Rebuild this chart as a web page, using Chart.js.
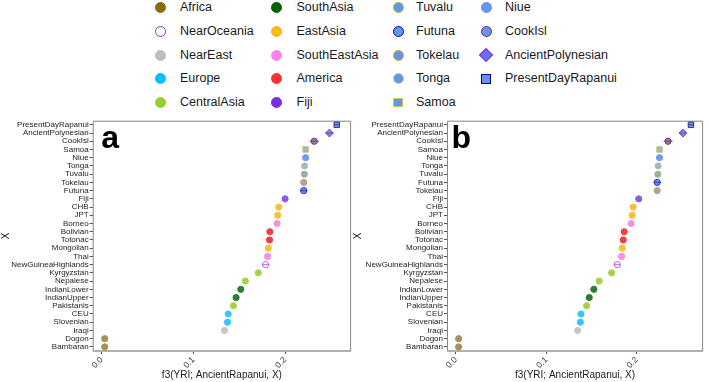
<!DOCTYPE html>
<html>
<head>
<meta charset="utf-8">
<script src="https://cdn.jsdelivr.net/npm/chart.js@4.4.1/dist/chart.umd.min.js"></script>
<style>
  html, body { margin: 0; padding: 0; background: #fff; }
  body { width: 708px; height: 382px; position: relative; overflow: hidden;
         font-family: 'Liberation Sans', Arial, sans-serif; }
  canvas { position: absolute; }
  .lg { position: absolute; font-size: 12.5px; color: #1a1a1a; line-height: 14px; white-space: nowrap; }
  .mk { position: absolute; box-sizing: border-box; }
</style>
</head>
<body>
<div id="legend"></div>
<canvas id="panelA" width="356" height="272" style="left:0px;top:110px"></canvas>
<canvas id="panelB" width="356" height="272" style="left:352px;top:110px"></canvas>
<script>
// populations, top to bottom, for each panel
const catsA = ['PresentDayRapanui', 'AncientPolynesian', 'CookIsl', 'Samoa', 'Niue', 'Tonga', 'Tuvalu',
  'Tokelau', 'Futuna', 'Fiji', 'CHB', 'JPT', 'Borneo', 'Bolivian', 'Totonac', 'Mongolian', 'Thai',
  'NewGuineaHighlands', 'Kyrgyzstan', 'Nepalese', 'IndianLower', 'IndianUpper', 'Pakistanis', 'CEU',
  'Slovenian', 'Iraqi', 'Dogon', 'Bambaran'];
const valsA = [0.2564, 0.2484, 0.2318, 0.2224, 0.2224, 0.2213, 0.2210, 0.2203, 0.2203, 0.2000, 0.1932,
  0.1920, 0.1913, 0.1834, 0.1830, 0.1816, 0.1809, 0.1787, 0.1708, 0.1567, 0.1517, 0.1466, 0.1437, 0.1379,
  0.1372, 0.1339, 0.0033, 0.0033];
const seA = [0.003, 0.004, 0.005, 0.003, 0.003, 0.003, 0.003, 0.003, 0.004, 0.003, 0.003, 0.003, 0.003,
  0.003, 0.003, 0.003, 0.003, 0.004, 0.003, 0.003, 0.003, 0.003, 0.003, 0.003, 0.003, 0.003, 0.003, 0.003];

const catsB = ['PresentDayRapanui', 'AncientPolynesian', 'CookIsl', 'Samoa', 'Niue', 'Tonga', 'Tuvalu',
  'Futuna', 'Tokelau', 'Fiji', 'CHB', 'JPT', 'Borneo', 'Bolivian', 'Totonac', 'Mongolian', 'Thai',
  'NewGuineaHighlands', 'Kyrgyzstan', 'Nepalese', 'IndianLower', 'IndianUpper', 'Pakistanis', 'CEU',
  'Slovenian', 'Iraqi', 'Dogon', 'Bambaran'];
const valsB = [0.2601, 0.2512, 0.2347, 0.2253, 0.2253, 0.2238, 0.2234, 0.2227, 0.2227, 0.2023, 0.1960,
  0.1950, 0.1939, 0.1862, 0.1851, 0.1840, 0.1833, 0.1785, 0.1723, 0.1585, 0.1526, 0.1475, 0.1446, 0.1384,
  0.1377, 0.1347, 0.0030, 0.0030];
const seB = [0.003, 0.004, 0.005, 0.003, 0.003, 0.003, 0.003, 0.004, 0.003, 0.003, 0.003, 0.003, 0.003,
  0.003, 0.003, 0.003, 0.003, 0.004, 0.003, 0.003, 0.003, 0.003, 0.003, 0.003, 0.003, 0.003, 0.003, 0.003];

// which legend group each population belongs to
const groupOf = {
  PresentDayRapanui: 'PresentDayRapanui', AncientPolynesian: 'AncientPolynesian', CookIsl: 'CookIsl',
  Samoa: 'Samoa', Niue: 'Niue', Tonga: 'Tonga', Tuvalu: 'Tuvalu', Tokelau: 'Tokelau', Futuna: 'Futuna',
  Fiji: 'Fiji', CHB: 'EastAsia', JPT: 'EastAsia', Borneo: 'SouthEastAsia', Bolivian: 'America',
  Totonac: 'America', Mongolian: 'EastAsia', Thai: 'SouthEastAsia', NewGuineaHighlands: 'NearOceania',
  Kyrgyzstan: 'CentralAsia', Nepalese: 'CentralAsia', IndianLower: 'SouthAsia', IndianUpper: 'SouthAsia',
  Pakistanis: 'CentralAsia', CEU: 'Europe', Slovenian: 'Europe', Iraqi: 'NearEast', Dogon: 'Africa',
  Bambaran: 'Africa'
};

// legend order (column by column)
const legendGroups = ['Africa', 'NearOceania', 'NearEast', 'Europe', 'CentralAsia',
  'SouthAsia', 'EastAsia', 'SouthEastAsia', 'America', 'Fiji',
  'Tuvalu', 'Futuna', 'Tokelau', 'Tonga', 'Samoa',
  'Niue', 'CookIsl', 'AncientPolynesian', 'PresentDayRapanui'];

const xTicks = [0, 0.1, 0.2];

// styles: legend colours (key) and the lighter colours seen in the panels (plot)
const styles = {
  Africa:            { shape: 'circle', key: ['#8b6914', '#8b6914'], plot: ['#a8925a', '#a8925a'] },
  NearOceania:       { shape: 'circle', key: ['#ffffff', '#9932cc'], plot: ['#ffffff', '#b060e6'] },
  NearEast:          { shape: 'circle', key: ['#bebebe', '#bebebe'], plot: ['#c6c6c6', '#c6c6c6'] },
  Europe:            { shape: 'circle', key: ['#00bfff', '#00bfff'], plot: ['#3cc6f5', '#3cc6f5'] },
  CentralAsia:       { shape: 'circle', key: ['#9acd32', '#9acd32'], plot: ['#a8d14c', '#a8d14c'] },
  SouthAsia:         { shape: 'circle', key: ['#006400', '#006400'], plot: ['#2f7d2f', '#2f7d2f'] },
  EastAsia:          { shape: 'circle', key: ['#ffb90f', '#ffb90f'], plot: ['#fbc034', '#fbc034'] },
  SouthEastAsia:     { shape: 'circle', key: ['#ff83e8', '#ff83e8'], plot: ['#f690e2', '#f690e2'] },
  America:           { shape: 'circle', key: ['#ff3030', '#ff3030'], plot: ['#ef4048', '#ef4048'] },
  Fiji:              { shape: 'circle', key: ['#7b2be2', '#7b2be2'], plot: ['#8a5ce2', '#8a5ce2'] },
  Tuvalu:            { shape: 'circle', key: ['#6495ed', '#9acd32'], plot: ['#8eaec0', '#a0bc8c'] },
  Futuna:            { shape: 'circle', key: ['#6495ed', '#0000cd'], plot: ['#6e8ff0', '#2233cc'] },
  Tokelau:           { shape: 'circle', key: ['#6495ed', '#daa520'], plot: ['#a4a6b6', '#c0a070'] },
  Tonga:             { shape: 'circle', key: ['#6495ed', '#c8c8a0'], plot: ['#9eb4bc', '#b4c4a8'] },
  Samoa:             { shape: 'rect',   key: ['#6495ed', '#d8c850'], plot: ['#9cb2c0', '#c4c484'] },
  Niue:              { shape: 'circle', key: ['#6495ed', '#6495ed'], plot: ['#6e9cf0', '#6e9cf0'] },
  CookIsl:           { shape: 'circle', key: ['#6495ed', '#8b2252'], plot: ['#8884b8', '#6a3a5c'] },
  AncientPolynesian: { shape: 'rectRot', key: ['#6a70ee', '#7b2be2'], plot: ['#8a82e8', '#6a40b4'] },
  PresentDayRapanui: { shape: 'rect',   key: ['#6495ed', '#00008b'], plot: ['#7090e4', '#2a3a92'] }
};

const FONT = "'Liberation Sans', Arial, sans-serif";
const TEXT = '#1a1a1a';

// legend built as html
function buildLegend() {
  const box = document.getElementById('legend');
  const markX = [160.5, 276, 398, 486];
  const textX = [180, 296.5, 416, 505];
  legendGroups.forEach(function(g, i) {
    const col = Math.floor(i / 5), row = i % 5;
    const cy = 7.5 + row * 23.8;
    const st = styles[g];
    const m = document.createElement('div');
    m.className = 'mk';
    let size = 11;
    if (st.shape === 'rect') size = 9.5;
    if (st.shape === 'rectRot') size = 10;
    m.style.width = size + 'px';
    m.style.height = size + 'px';
    m.style.left = (markX[col] - size / 2) + 'px';
    m.style.top = (cy - size / 2) + 'px';
    m.style.background = st.key[0];
    m.style.border = '1.4px solid ' + st.key[1];
    if (st.shape === 'circle') m.style.borderRadius = '50%';
    if (st.shape === 'rectRot') m.style.transform = 'rotate(45deg)';
    box.appendChild(m);
    const t = document.createElement('div');
    t.className = 'lg';
    t.textContent = g;
    t.style.left = textX[col] + 'px';
    t.style.top = (cy - 7.5) + 'px';
    box.appendChild(t);
  });
}

// box, error bars and panel letter
const panelPlugin = {
  id: 'panel',
  beforeDatasetsDraw(chart) {
    const a = chart.chartArea, ctx = chart.ctx;
    ctx.save();
    ctx.strokeStyle = '#858585';
    ctx.lineWidth = 1;
    ctx.beginPath();
    ctx.moveTo(a.left + 0.5, a.bottom);
    ctx.lineTo(a.left + 0.5, a.top + 0.5);
    ctx.lineTo(a.right - 0.5, a.top + 0.5);
    ctx.lineTo(a.right - 0.5, a.bottom);
    ctx.stroke();
    ctx.strokeStyle = '#b0b0b0';
    ctx.lineWidth = 2;
    ctx.beginPath();
    ctx.moveTo(a.left, a.bottom);
    ctx.lineTo(a.right, a.bottom);
    ctx.stroke();
    ctx.restore();
  },
  afterDatasetsDraw(chart, args, opts) {
    const ctx = chart.ctx, ds = chart.data.datasets[0];
    const xs = chart.scales.x, ys = chart.scales.y;
    ctx.save();
    ctx.lineWidth = 0.9;
    opts.se.forEach(function(e, i) {
      const v = ds.data[i];
      const y = ys.getPixelForValue(i);
      ctx.strokeStyle = ds.pointBorderColor[i];
      ctx.beginPath();
      ctx.moveTo(xs.getPixelForValue(v - e), y);
      ctx.lineTo(xs.getPixelForValue(v + e), y);
      ctx.stroke();
    });
    ctx.restore();
  },
  afterDraw(chart, args, opts) {
    const ctx = chart.ctx, a = chart.chartArea;
    ctx.save();
    ctx.fillStyle = '#000';
    ctx.font = 'bold 32px ' + FONT;
    ctx.textBaseline = 'alphabetic';
    ctx.fillText(opts.letter, a.left + opts.letterDx, a.top + 27.5);
    ctx.restore();
  }
};

function makePanel(id, cats, vals, se, letter, yWidth, xMin, xMax, padRight, letterDx) {
  const groups = cats.map(c => styles[groupOf[c]]);
  const radius = groups.map(s => s.shape === 'rect' ? 3.9 : (s.shape === 'rectRot' ? 3.9 : 3.1));
  const ctx = document.getElementById(id).getContext('2d');
  return new Chart(ctx, {
    type: 'line',
    data: {
      labels: cats,
      datasets: [{
        data: vals,
        showLine: false,
        pointStyle: groups.map(s => s.shape),
        pointRadius: radius,
        pointHoverRadius: radius,
        pointBackgroundColor: groups.map(s => s.plot[0]),
        pointBorderColor: groups.map(s => s.plot[1]),
        pointBorderWidth: 1,
        clip: false
      }]
    },
    options: {
      indexAxis: 'y',
      responsive: false,
      animation: false,
      events: [],
      layout: { padding: { top: 10.7, right: padRight, left: 0, bottom: 0 } },
      plugins: {
        legend: { display: false },
        tooltip: { enabled: false },
        panel: { se: se, letter: letter, letterDx: letterDx }
      },
      scales: {
        x: {
          type: 'linear',
          min: xMin,
          max: xMax,
          afterBuildTicks: s => { s.ticks = xTicks.map(v => ({ value: v })); },
          afterFit: s => { s.height = 31; },
          ticks: {
            font: { size: 8.5, family: FONT },
            color: '#333',
            minRotation: 45,
            maxRotation: 45,
            padding: 1,
            autoSkip: false,
            callback: v => Number(v).toFixed(1)
          },
          grid: { display: true, drawOnChartArea: false, drawTicks: true, tickLength: 3, color: '#555' },
          border: { display: false },
          title: {
            display: true,
            text: 'f3(YRI; AncientRapanui, X)',
            font: { size: 10, family: FONT },
            color: TEXT,
            padding: { top: 0, bottom: 1 }
          }
        },
        y: {
          type: 'category',
          offset: true,
          afterFit: s => { s.width = yWidth; },
          ticks: { font: { size: 8, family: FONT }, color: '#222', padding: 1, autoSkip: false },
          grid: { display: true, drawOnChartArea: false, drawTicks: true, tickLength: 3, color: '#555' },
          border: { display: false },
          title: {
            display: true,
            text: 'X',
            font: { size: 10, family: FONT },
            color: TEXT,
            padding: { top: 0, bottom: 0 }
          }
        }
      }
    },
    plugins: [panelPlugin]
  });
}

buildLegend();
makePanel('panelA', catsA, valsA, seA, 'a', 92.7, -0.0098, 0.272, 3, 8.5);
makePanel('panelB', catsB, valsB, seB, 'b', 95, -0.0099, 0.2735, 2.3, 4.5);
</script>
</body>
</html>
